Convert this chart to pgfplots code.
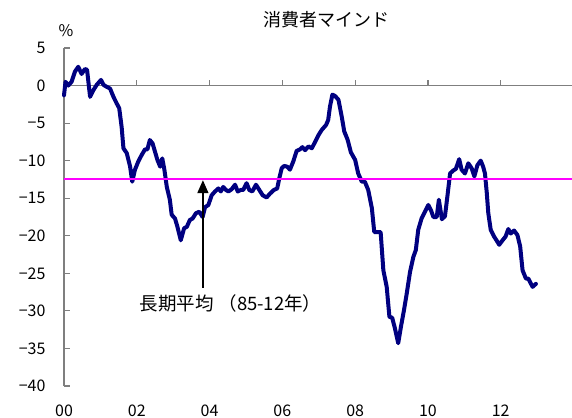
\documentclass[border=0pt]{standalone}
\usepackage{pgfplots}
\pgfplotsset{compat=1.18}
\usepackage{fontspec}
\setmainfont{Noto Sans CJK JP}
\usetikzlibrary{arrows.meta}
\definecolor{navyline}{HTML}{000080}
\definecolor{axgray}{HTML}{7F7F7F}
\definecolor{avgline}{HTML}{FF00FF}

\pgfplotstableread{
m y
0 -1.3
0.5 0.5
1.4 0.0
2.5 0.5
3.6 1.85
4.7 2.5
5.8 1.55
6.9 2.2
7.6 2.1
8.6 -1.5
9.7 -0.6
10.8 0.1
12.2 0.75
13 0.1
14 -0.15
15.2 -0.4
16.3 -1.5
17.4 -2.4
18.2 -3.0
19 -5.5
19.6 -8.35
20.7 -9.0
21.8 -10.8
22.5 -12.8
23.4 -11.2
24.5 -10.1
25.6 -9.25
26.7 -8.5
27.5 -8.5
28.3 -7.25
29.2 -7.7
30 -8.8
30.8 -9.9
31.7 -10.8
32.4 -9.7
33.1 -11.2
33.9 -13.5
34.9 -15.2
35.5 -17.2
36.6 -17.7
37.4 -18.8
38.5 -20.6
39.6 -19.0
40.5 -18.8
41.5 -17.9
42.4 -17.7
43.5 -17.0
44.6 -16.8
45.7 -17.5
46.5 -16.2
47.6 -15.9
48.7 -14.6
49.8 -14.1
50.9 -13.7
51.7 -14.1
52.5 -13.5
53.4 -13.9
54.2 -14.1
55.3 -13.8
56.4 -13.2
57.3 -14.1
58.3 -13.9
59.1 -13.9
60.2 -13.0
61.1 -13.9
62.1 -14.1
63.3 -13.2
64.4 -13.9
65.5 -14.6
66.8 -14.9
67.9 -14.4
69.2 -13.9
70.3 -13.7
71 -12.3
71.8 -11.0
72.6 -10.7
73.6 -10.8
74.5 -11.2
75.6 -10.1
76.7 -8.7
77.8 -8.5
78.6 -8.2
79.5 -8.6
80.6 -8.1
81.7 -8.35
82.8 -7.5
83.9 -6.6
85 -5.9
86.4 -5.25
87.1 -4.6
87.7 -2.8
88.5 -1.2
89.4 -1.4
90.5 -1.9
91.6 -4.2
92.4 -6.1
93.5 -7.2
94.6 -8.9
96 -9.9
97 -11.7
98.2 -12.8
99.2 -12.8
100.3 -13.9
101.5 -16.3
102.3 -19.5
103.6 -19.5
104.4 -19.5
105.3 -24.6
106.4 -26.8
107.3 -30.8
108.2 -30.9
109.1 -32.3
110.2 -34.3
111.1 -32.1
112.1 -29.9
113 -27.7
114.1 -24.8
115.2 -22.8
116 -21.9
116.8 -19.2
117.9 -17.7
119 -16.8
120.1 -15.9
121 -16.6
121.8 -17.5
122.9 -17.5
123.6 -15.2
124.6 -17.8
125.6 -17.4
126.4 -14.8
127.3 -11.7
128.4 -11.3
129.2 -11.1
130.3 -9.8
131.1 -11.2
132.2 -11.7
133.3 -10.35
134.4 -11.0
135.3 -12.1
136.3 -10.6
137.4 -10.0
138.2 -10.8
138.8 -11.7
139.4 -14.3
139.9 -17.0
140.7 -19.2
141.8 -20.1
142.6 -20.6
143.5 -21.2
144.6 -20.6
145.6 -20.1
146.5 -19.1
147.3 -19.7
148.4 -19.3
149.5 -19.9
150.4 -21.4
151.2 -24.6
152.3 -25.7
153.1 -25.7
153.6 -26.1
154.5 -26.8
155.6 -26.4
}\mindtable

\pgfplotstableread{
m y
0 -12.5
167.5 -12.5
}\avgtable

\begin{document}
\begin{tikzpicture}
\begin{axis}[
  scale only axis, width=508pt, height=338pt,
  xmin=0, xmax=167.5, ymin=-40, ymax=5,
  axis y line*=left, axis x line*=middle,
  hide obscured x ticks=false, hide obscured y ticks=false,
  axis line style={axgray, line width=1.2pt},
  xtick={0,24,48,72,96,120,144},
  xticklabels={00,02,04,06,08,10,12},
  ytick={-40,-35,-30,-25,-20,-15,-10,-5,0,5},
  yticklabels={−40,−35,−30,−25,−20,−15,−10,−5,0,5},
  tick align=inside, major tick length=6pt,
  tick style={axgray, line width=1.2pt},
  x tick style={draw=none},
  xticklabel style={anchor=center, yshift=-325pt},
  yticklabel style={anchor=east, xshift=-15pt},
  ticklabel style={font=\fontsize{16}{19}\selectfont},
  clip=false,
]
\addplot[navyline, line width=4pt, line join=round, line cap=round] table[x=m,y=y] {\mindtable};
\addplot[avgline, line width=2pt] table[x=m,y=y] {\avgtable};
\pgfplotsinvokeforeach{24,48,72,96,120,144}{
  \draw[axgray, line width=1.2pt] (axis cs:#1,0) -- (axis cs:#1,0.8);
}
\draw[black, line width=1.5pt, -{Triangle[width=11pt,length=13pt]}] (axis cs:45.8,-26.95) -- (axis cs:45.8,-12.6);
\node[font=\fontsize{18.5}{21}\selectfont] at (axis cs:54.9,-28.95) {長期平均\hspace{5pt}（85-12年）};
\end{axis}
\node[font=\fontsize{18}{20}\selectfont] at (262pt,366pt) {消費者マインド};
\node[font=\fontsize{16}{19}\selectfont] at (2pt,355pt) {\%};
\pgfresetboundingbox
\useasboundingbox (-64pt,-31pt) rectangle (508pt,386pt);
\end{tikzpicture}
\end{document}
